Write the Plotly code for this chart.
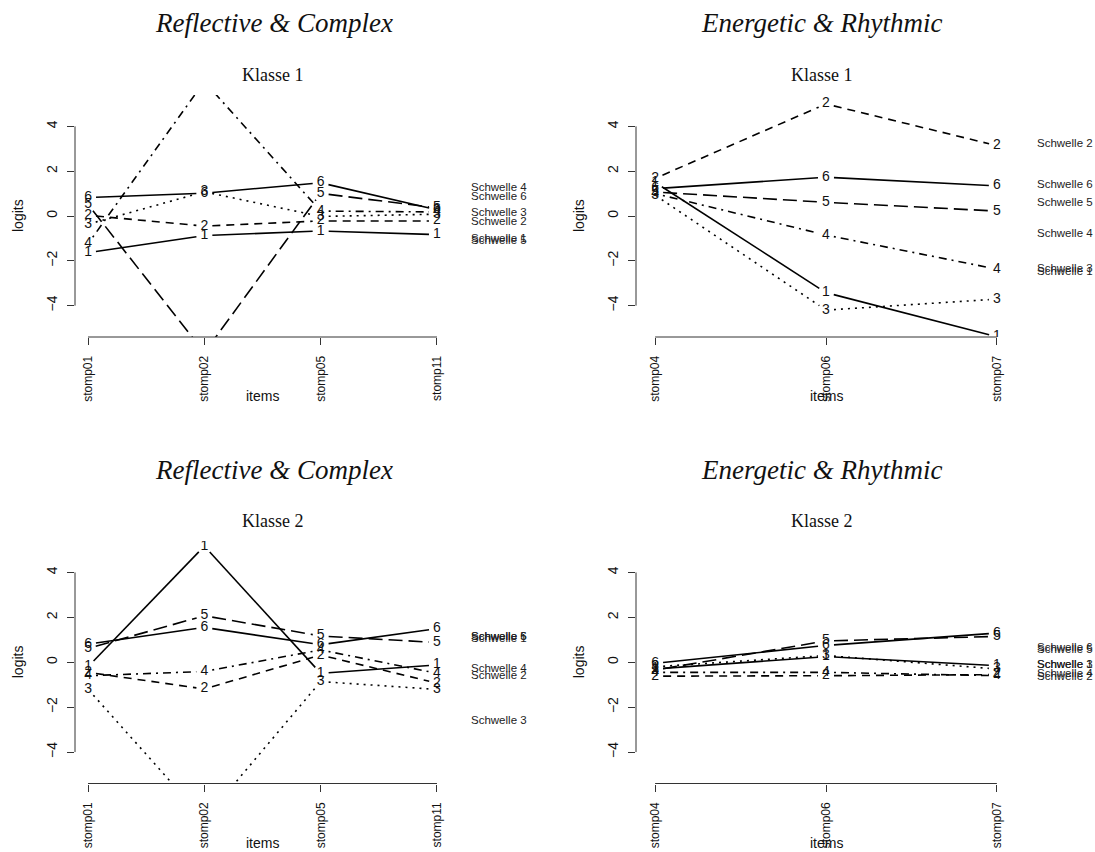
import math
import plotly.graph_objects as go

W, H = 1095, 852

# ---- data -------------------------------------------------------------
items_rc = ["stomp01", "stomp02", "stomp05", "stomp11"]
items_er = ["stomp04", "stomp06", "stomp07"]
schwellen = ["1", "2", "3", "4", "5", "6"]

# Reflective & Complex, Klasse 1 (rows: Schwelle 1..6, cols: items_rc)
rc_k1 = [
    [-1.64, -0.87, -0.67, -0.83],
    [0.03, -0.45, -0.22, -0.22],
    [-0.37, 1.08, -0.02, 0.08],
    [-1.24, 6.00, 0.22, 0.18],
    [0.52, -6.10, 1.01, 0.36],
    [0.82, 1.02, 1.48, 0.28],
]
# Energetic & Rhythmic, Klasse 1 (cols: items_er)
er_k1 = [
    [1.50, -3.42, -5.39],
    [1.68, 5.00, 3.14],
    [0.93, -4.20, -3.71],
    [1.00, -0.85, -2.37],
    [1.07, 0.61, 0.22],
    [1.22, 1.73, 1.34],
]
# Reflective & Complex, Klasse 2
rc_k2 = [
    [-0.20, 5.17, -0.49, -0.12],
    [-0.45, -1.19, 0.32, -0.93],
    [-1.20, -7.00, -0.86, -1.21],
    [-0.60, -0.41, 0.55, -0.49],
    [0.62, 2.07, 1.17, 0.88],
    [0.81, 1.55, 0.78, 1.50],
]
# Energetic & Rhythmic, Klasse 2
er_k2 = [
    [-0.30, 0.25, -0.15],
    [-0.62, -0.60, -0.55],
    [-0.20, 0.30, -0.30],
    [-0.45, -0.45, -0.60],
    [-0.35, 0.95, 1.15],
    [-0.05, 0.75, 1.30],
]

y_ticks = [-4, -2, 0, 2, 4]
y_ticktext = ["\u22124", "\u22122", "0", "2", "4"]

# ---- styling ----------------------------------------------------------
dashes = ["solid", "8px,6px", "2px,5px", "2px,5px,8px,5px", "14px,6px", "solid"]
SANS = "Liberation Sans, Arial, sans-serif"
SERIF = "Liberation Serif, Times New Roman, serif"
YR = [-5.4, 5.4]
GAP = 8  # px gap around point labels (type = "b")

panels = [
    dict(items=items_rc, data=rc_k1, xdom=(75, 450), ydom=(95, 337),
         title="Reflective &amp; Complex", sub="Klasse 1", tx=273.75, ty=23, kx=272.5, ky=75),
    dict(items=items_er, data=er_k1, xdom=(636, 1016), ydom=(95, 337),
         title="Energetic &amp; Rhythmic", sub="Klasse 1", tx=821.25, ty=23, kx=822, ky=75),
    dict(items=items_rc, data=rc_k2, xdom=(75, 450), ydom=(541, 783.5),
         title="Reflective &amp; Complex", sub="Klasse 2", tx=273.75, ty=470, kx=272.5, ky=521),
    dict(items=items_er, data=er_k2, xdom=(636, 1016), ydom=(541, 783.5),
         title="Energetic &amp; Rhythmic", sub="Klasse 2", tx=821.25, ty=470, kx=822, ky=521),
]

fig = go.Figure()
annotations = []
shapes = []
layout = dict(width=W, height=H, margin=dict(l=0, r=0, t=0, b=0),
              paper_bgcolor="white", plot_bgcolor="white", showlegend=False)

for i, p in enumerate(panels, start=1):
    n = len(p["items"])
    xs = list(range(1, n + 1))
    pad = 0.112
    xr = [1 - pad, n + pad]
    x0, x1 = p["xdom"]
    y0, y1 = p["ydom"]
    ux = (x1 - x0) / (xr[1] - xr[0])
    uy = (y1 - y0) / (YR[1] - YR[0])
    xa = "x" if i == 1 else f"x{i}"
    ya = "y" if i == 1 else f"y{i}"
    xkey = "xaxis" if i == 1 else f"xaxis{i}"
    ykey = "yaxis" if i == 1 else f"yaxis{i}"

    layout[xkey] = dict(domain=[x0 / W, x1 / W], range=xr, anchor=ya,
                        tickvals=xs, ticktext=p["items"], tickangle=-90,
                        ticks="outside", ticklen=7, tickcolor="#333", tickwidth=1,
                        showline=False, showgrid=False, zeroline=False,
                        tickfont=dict(family=SANS, size=12, color="#111"),
                        ticklabelstandoff=6, fixedrange=True)
    layout[ykey] = dict(domain=[1 - y1 / H, 1 - y0 / H], range=YR, anchor=xa,
                        tickvals=y_ticks, ticktext=y_ticktext, tickangle=-90,
                        ticks="outside", ticklen=7, tickcolor="#333", tickwidth=1,
                        showline=False, showgrid=False, zeroline=False,
                        tickfont=dict(family=SANS, size=14, color="#111"),
                        ticklabelstandoff=4, fixedrange=True)

    # axis lines (R style: from first to last tick)
    shapes.append(dict(type="line", xref=xa, yref=f"{ya} domain", x0=1, x1=n, y0=0, y1=0,
                       line=dict(color="#333", width=1)))
    shapes.append(dict(type="line", xref=f"{xa} domain", yref=ya, x0=0, x1=0,
                       y0=y_ticks[0], y1=y_ticks[-1], line=dict(color="#333", width=1)))

    for k, row in enumerate(p["data"]):
        # line segments shortened around the labels (type = "b")
        sx, sy = [], []
        for j in range(n - 1):
            dxp = (xs[j + 1] - xs[j]) * ux
            dyp = (row[j + 1] - row[j]) * uy
            L = math.hypot(dxp, dyp)
            if L <= 2 * GAP:
                continue
            f = GAP / L
            sx += [xs[j] + (xs[j + 1] - xs[j]) * f, xs[j + 1] - (xs[j + 1] - xs[j]) * f, None]
            sy += [row[j] + (row[j + 1] - row[j]) * f, row[j + 1] - (row[j + 1] - row[j]) * f, None]
        fig.add_trace(go.Scatter(x=sx, y=sy, mode="lines", xaxis=xa, yaxis=ya,
                                 line=dict(color="black", width=1.6, dash=dashes[k]),
                                 hoverinfo="skip"))
        fig.add_trace(go.Scatter(x=xs, y=row, mode="text", xaxis=xa, yaxis=ya,
                                 text=[schwellen[k]] * n, textposition="middle center",
                                 textfont=dict(family=SANS, size=14, color="#111"),
                                 cliponaxis=True, hoverinfo="skip"))
        mean = sum(row) / n
        annotations.append(dict(x=(x1 + 19) / W, xref="paper", xanchor="left",
                                y=mean, yref=ya, yanchor="middle",
                                text=f"Schwelle {schwellen[k]}", showarrow=False,
                                font=dict(family=SANS, size=11.5, color="#222")))

    # axis titles
    cy = (y0 + y1) / 2
    annotations.append(dict(x=(x0 - 57) / W, xref="paper", y=1 - cy / H, yref="paper",
                            text="logits", textangle=-90, showarrow=False,
                            xanchor="center", yanchor="middle",
                            font=dict(family=SANS, size=14, color="#111")))
    cx = x0 + (((1 + n) / 2) - xr[0]) * ux
    annotations.append(dict(x=cx / W, xref="paper", y=1 - (y1 + 59) / H, yref="paper",
                            text="items", showarrow=False, xanchor="center", yanchor="middle",
                            font=dict(family=SANS, size=14, color="#111")))
    # titles
    annotations.append(dict(x=p["tx"] / W, xref="paper", y=1 - p["ty"] / H, yref="paper",
                            text=f"<i>{p['title']}</i>", showarrow=False,
                            xanchor="center", yanchor="middle",
                            font=dict(family=SERIF, size=27, color="#111")))
    annotations.append(dict(x=p["kx"] / W, xref="paper", y=1 - p["ky"] / H, yref="paper",
                            text=p["sub"], showarrow=False,
                            xanchor="center", yanchor="middle",
                            font=dict(family=SERIF, size=18, color="#111")))

layout["annotations"] = annotations
layout["shapes"] = shapes
fig.update_layout(**layout)
fig.write_html("out.html")
